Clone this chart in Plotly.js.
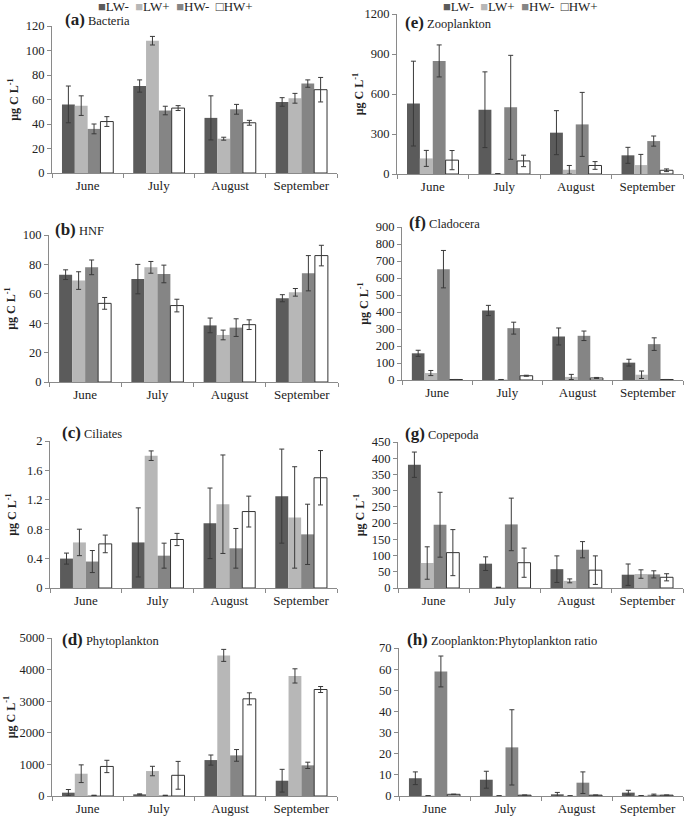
<!DOCTYPE html>
<html>
<head>
<meta charset="utf-8">
<script src="https://cdn.plot.ly/plotly-3.0.1.min.js"></script>
<style>html,body{margin:0;padding:0;background:#fff;}#chart{width:685px;height:817px;}</style>
</head>
<body>
<div id="chart"></div>
<script>
// ---- Data (rows: LW-, LW+, HW-, HW+; columns: months) ----
const months = ["June", "July", "August", "September"];
const treatments = ["LW-", "LW+", "HW-", "HW+"];

const bacteriaMean = [[56, 71, 45, 58], [55, 108, 28, 61], [36, 51, 52, 73], [42, 53, 41, 68]];
const bacteriaErr  = [[15, 5, 18, 3.5], [8, 3.5, 1.2, 4], [4, 3.5, 4, 3], [4, 2, 2, 10]];

const hnfMean = [[73, 70, 38.5, 57], [69, 78, 32, 61], [78, 73.5, 37, 74], [53.5, 52, 39, 86]];
const hnfErr  = [[3.3, 10, 5, 2.4], [6, 4, 3.3, 2.6], [5, 6, 6, 12], [4, 4.3, 3.3, 7]];

const ciliatesMean = [[0.40, 0.62, 0.88, 1.25], [0.62, 1.80, 1.14, 0.96], [0.36, 0.44, 0.54, 0.73], [0.60, 0.66, 1.04, 1.50]];
const ciliatesErr  = [[0.075, 0.47, 0.48, 0.64], [0.18, 0.065, 0.67, 0.69], [0.15, 0.17, 0.27, 0.41], [0.12, 0.083, 0.21, 0.37]];

const phytoMean = [[105, 53, 1137, 484], [705, 790, 4450, 3800], [20, 20, 1285, 970], [935, 655, 3075, 3370]];
const phytoErr  = [[100, 15, 160, 360], [280, 150, 190, 225], [5, 5, 185, 100], [195, 440, 190, 95]];

const zooMean = [[528, 482, 310, 140], [117, 3, 32, 67], [848, 500, 372, 247], [104, 98, 64, 28]];
const zooErr  = [[318, 284, 165, 60], [60, 0, 32, 80], [120, 390, 240, 38], [72, 43, 29, 10]];

const cladoMean = [[157, 409, 256, 102], [41, 3, 18, 31], [652, 305, 260, 211], [3, 25, 12, 3]];
const cladoErr  = [[18, 30, 50, 20], [15, 0, 15, 22], [110, 35, 28, 37], [0, 3, 3, 0]];

const copeMean = [[380, 75, 58, 41], [77, 2, 22, 43], [195, 196, 118, 42], [109, 78, 55, 33]];
const copeErr  = [[39, 21, 41, 33], [50, 0, 6, 13], [100, 81, 25, 11], [71, 45, 44, 11]];

const ratioMean = [[8.4, 7.7, 0.8, 1.6], [0.15, 0.1, 0.1, 0.2], [58.9, 23, 6.3, 0.6], [0.8, 0.4, 0.4, 0.4]];
const ratioErr  = [[3, 4, 0.9, 1.1], [0, 0, 0, 0], [7.3, 17.8, 5.1, 0.3], [0, 0, 0, 0]];

const panelLetters = ["(a)", "(b)", "(c)", "(d)", "(e)", "(f)", "(g)", "(h)"];
const panelNames = ["Bacteria", "HNF", "Ciliates", "Phytoplankton", "Zooplankton", "Cladocera", "Copepoda", "Zooplankton:Phytoplankton ratio"];
const yMax = [120, 100, 2, 5000, 1200, 900, 450, 70];
const yStep = [20, 20, 0.4, 1000, 300, 100, 50, 10];

// ---- Styles / layout geometry (pixels) ----
const W = 685, H = 817;
const fillColors = ["#5b5b5b", "#b7b7b7", "#858585", "#ffffff"];
const lineWidths = [0, 0, 0, 1];
const FONT = "'Liberation Serif', 'Times New Roman', Times, serif";
const boxes = [ // [left, right, top, bottom] of plot area in px
  [52, 337, 26, 173], [49, 338, 235, 382], [50, 337, 441, 588], [52, 337, 638, 796],
  [397, 683, 14, 174], [402, 683, 227, 380], [398, 683, 442, 588], [399, 683, 648, 796]
];
const labelPos = [ // [x, y] px of panel label
  [63, 20], [53, 229], [60, 432], [60, 639], [403, 22], [407, 223], [403, 433], [405, 639]
];
const showYTitle = [true, true, true, true, true, true, true, false];

const means = [bacteriaMean, hnfMean, ciliatesMean, phytoMean, zooMean, cladoMean, copeMean, ratioMean];
const errs = [bacteriaErr, hnfErr, ciliatesErr, phytoErr, zooErr, cladoErr, copeErr, ratioErr];

const traces = [];
const layout = {
  width: W, height: H,
  margin: {l: 0, r: 0, t: 0, b: 0},
  paper_bgcolor: "#ffffff", plot_bgcolor: "#ffffff",
  barmode: "group", bargap: 0.28, bargroupgap: 0,
  showlegend: false,
  font: {family: FONT, size: 12, color: "#222"},
  annotations: []
};

for (let p = 0; p < 8; p++) {
  const sfx = p === 0 ? "" : String(p + 1);
  const [l, r, t, b] = boxes[p];
  for (let s = 0; s < 4; s++) {
    traces.push({
      type: "bar",
      name: treatments[s],
      x: months,
      y: means[p][s],
      xaxis: "x" + sfx, yaxis: "y" + sfx,
      marker: {color: fillColors[s], line: {color: "#333", width: lineWidths[s]}},
      error_y: {type: "data", array: errs[p][s], visible: true, color: "#3a3a3a", thickness: 1, width: 2.5},
      hoverinfo: "x+y+name"
    });
  }
  layout["xaxis" + sfx] = {
    domain: [l / W, r / W],
    anchor: "y" + sfx,
    type: "category",
    categoryorder: "array", categoryarray: months,
    range: [-0.5, 3.5],
    showline: true, linecolor: "#8a8a8a", linewidth: 1,
    ticks: "outside", tickson: "boundaries", ticklen: 4, tickcolor: "#8a8a8a",
    showgrid: false, zeroline: false,
    tickfont: {family: FONT, size: 13, color: "#222"}
  };
  layout["yaxis" + sfx] = {
    domain: [1 - b / H, 1 - t / H],
    anchor: "x" + sfx,
    range: [0, yMax[p]],
    dtick: yStep[p], tick0: 0,
    showline: true, linecolor: "#8a8a8a", linewidth: 1,
    ticks: "outside", ticklen: 4, tickcolor: "#8a8a8a",
    showgrid: false, zeroline: false,
    tickfont: {family: FONT, size: 12.5, color: "#222"},
    title: showYTitle[p] ? {text: "<b>μg C L<sup>-1</sup></b>", font: {family: FONT, size: 12, color: "#222"}} : {text: ""}
  };
  layout.annotations.push({
    xref: "paper", yref: "paper",
    x: labelPos[p][0] / W, y: 1 - labelPos[p][1] / H,
    xanchor: "left", yanchor: "middle",
    showarrow: false,
    text: "<b><span style='font-size:17px'>" + panelLetters[p] + "</span></b> " + panelNames[p],
    font: {family: FONT, size: 12.5, color: "#222"}
  });
}

// legend rows (top of each column), built from treatments & colors
const symbols = ["■", "■", "■", "□"];
const symColors = ["#5b5b5b", "#b7b7b7", "#858585", "#333333"];
const legendText = treatments.map((t, i) =>
  "<span style='color:" + symColors[i] + "'>" + symbols[i] + "</span>" + t).join("  ");
[[175, 7], [520, 6]].forEach(([x, y]) => {
  layout.annotations.push({
    xref: "paper", yref: "paper", x: x / W, y: 1 - y / H,
    xanchor: "center", yanchor: "middle", showarrow: false,
    text: legendText, font: {family: FONT, size: 13, color: "#222"}
  });
});

Plotly.newPlot("chart", traces, layout, {staticPlot: true, displayModeBar: false});
</script>
</body>
</html>
